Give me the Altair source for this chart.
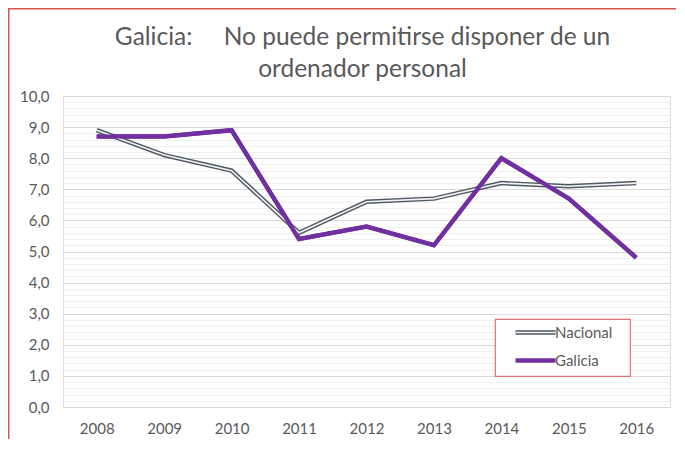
import altair as alt
import pandas as pd

YEARS = ["2008", "2009", "2010", "2011", "2012", "2013", "2014", "2015", "2016"]
NACIONAL = [8.9, 8.1, 7.6, 5.6, 6.6, 6.7, 7.2, 7.1, 7.2]
GALICIA = [8.7, 8.7, 8.9, 5.4, 5.8, 5.2, 8.0, 6.7, 4.8]
SERIES = ["Nacional", "Galicia"]
COLORS = ["#4e5964", "#7030a0"]
Y_TICKS = [round(i * 0.2, 1) for i in range(0, 51)]
TITLE = ["Galicia:\u00a0\u00a0\u00a0\u00a0 No puede permitirse disponer de un", "ordenador personal"]

rows = []
for y, n, g in zip(YEARS, NACIONAL, GALICIA):
    rows.append({"year": y, "serie": "Nacional", "value": n})
    rows.append({"year": y, "serie": "Galicia", "value": g})
df = pd.DataFrame(rows)

FONT = "Lato"
GRAY = "#595959"
INNER = "#f4f4f4"
LX, LY = 432, 223
SYM_PATH = "M-4,0H4"

x = alt.X("year:O", sort=YEARS, title=None,
          scale=alt.Scale(type="point", padding=0.5),
          axis=alt.Axis(labelAngle=0, labelFontSize=15, labelColor=GRAY, labelFont=FONT,
                        ticks=False, domainColor="#d9d9d9", domainWidth=1, labelPadding=14, grid=False))
y = alt.Y("value:Q", title=None,
          scale=alt.Scale(domain=[0, 10], nice=False, zero=True),
          axis=alt.Axis(values=Y_TICKS, ticks=False, domain=False, labelFontSize=15,
                        labelColor=GRAY, labelFont=FONT, labelPadding=14,
                        labelExpr="abs(datum.value - round(datum.value)) < 0.01 ? replace(format(datum.value, '.1f'), '.', ',') : ''",
                        gridColor={"condition": {"test": "abs(datum.value - round(datum.value)) < 0.01", "value": "#d9d9d9"}, "value": "#efefef"},
                        gridWidth=1))

common = dict(title=None, orient="none", legendX=LX, legendY=LY, padding=6, symbolOffset=27,
              symbolType=SYM_PATH, symbolSize=100, labelFontSize=15, labelFont=FONT,
              labelOffset=12, rowPadding=9,
              labelExpr="datum.label + '\u00a0\u00a0\u00a0\u200b'")

legend_main = alt.Legend(strokeColor="#e07272", fillColor="white", zindex=1,
                         symbolStrokeWidth=4.5, labelColor=GRAY, **common)
legend_inner = alt.Legend(symbolStrokeWidth=1.6, symbolStrokeColor=INNER, labelOpacity=0, zindex=2,
                          labelColor=GRAY, **common)

base = alt.Chart(df)
lines = base.mark_line(strokeWidth=4.5).encode(
    x=x, y=y,
    color=alt.Color("serie:N", scale=alt.Scale(domain=SERIES, range=COLORS), legend=legend_main),
)
inner = base.transform_filter("datum.serie === 'Nacional'").mark_line(strokeWidth=1.6, color=INNER).encode(
    x=x, y=y,
    opacity=alt.Opacity("serie:N", scale=alt.Scale(domain=["Nacional"], range=[1]), legend=legend_inner),
)
gal = base.transform_filter("datum.serie === 'Galicia'").mark_line(strokeWidth=4, color="#7030a0").encode(x=x, y=y)

frame_data = alt.Data(values=[{}])
left_border = alt.Chart(frame_data).mark_rule(color="#d9534f", strokeWidth=1.5).encode(
    x=alt.value(-54.3), y=alt.value(-87.3), y2=alt.value(400))
top_border = alt.Chart(frame_data).mark_rule(color="#d9534f", strokeWidth=1.5).encode(
    x=alt.value(-55), x2=alt.value(700), y=alt.value(-87.3))

chart = alt.layer(lines, inner, gal, left_border, top_border).properties(
    width=607, height=311,
    autosize=alt.AutoSizeParams(type="none"),
    padding={"left": 55, "top": 88, "right": 6, "bottom": 32},
    title=alt.TitleParams(TITLE, font=FONT, fontSize=24.5, fontWeight="normal", color=GRAY,
                          anchor="middle", frame="group", offset=0, lineHeight=32, dx=-4, dy=75),
).configure_view(stroke=None).configure(background="white").configure_legend(strokeWidth=1.2)

chart.save("out.html", embed_options={"renderer": "svg", "actions": False})
